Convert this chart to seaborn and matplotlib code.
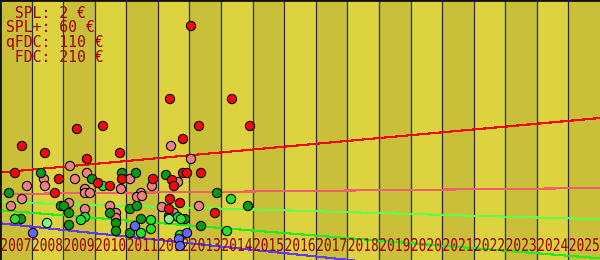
import matplotlib
matplotlib.use("Agg")
import matplotlib.pyplot as plt
import matplotlib.patheffects as pe
from matplotlib.transforms import Affine2D
import seaborn as sns
import pandas as pd

# ---------------- data ----------------
year_ticks = list(range(2007, 2026))
legend_lines = [" SPL: 2 €", "SPL+: 60 €", "qFDC: 110 €", " FDC: 210 €"]

# trend lines (start year / end year values)
trend_years = [2007, 2026]
trend_red = [8.75, 14.2]
trend_pink = [6.6, 7.2]
trend_lightgreen = [5.77, 4.07]
trend_lime = [4.97, 0.17]
trend_blue = [3.67, -2.63]

red_x = [2007.697, 2008.425, 2009.438, 2010.262, 2009.755, 2010.800, 2007.475, 2008.868,
         2010.863, 2010.103, 2010.483, 2008.742, 2013.048, 2012.383, 2014.346, 2013.302,
         2014.917, 2012.795, 2012.795, 2012.922, 2013.365, 2011.845, 2012.447, 2012.510,
         2012.383, 2012.700, 2012.352, 2013.808]
red_y = [11.4, 10.7, 13.1, 13.4, 10.1, 10.7, 8.7, 8.1,
         8.1, 7.7, 7.4, 6.7, 23.4, 16.1, 16.1, 13.4,
         13.4, 12.1, 8.7, 8.7, 8.7, 8.1, 8.0, 7.4,
         6.1, 5.7, 5.1, 4.7]

pink_x = [2009.217, 2009.755, 2008.393, 2009.375, 2011.117, 2007.855, 2008.425, 2010.832,
          2009.692, 2009.692, 2009.850, 2011.465, 2011.338, 2011.497, 2007.697, 2009.185,
          2007.348, 2010.483, 2009.692, 2010.673, 2010.673, 2012.415, 2013.048, 2011.813,
          2012.637, 2012.130, 2013.302, 2012.510]
pink_y = [9.4, 8.7, 8.1, 8.1, 8.1, 7.4, 7.4, 7.1,
          7.1, 6.7, 6.7, 6.7, 6.3, 6.4, 6.1, 5.7,
          5.4, 5.4, 5.1, 4.7, 4.2, 11.4, 10.1, 7.4,
          7.8, 5.3, 5.4, 4.7]

dgreen_x = [2008.298, 2010.863, 2011.307, 2009.913, 2007.285, 2008.932, 2009.027, 2009.185,
            2010.483, 2011.117, 2011.338, 2007.665, 2011.465, 2009.185, 2010.673, 2010.673,
            2011.117, 2012.257, 2013.872, 2014.853, 2013.365, 2012.352, 2012.858]
dgreen_y = [8.7, 8.7, 8.7, 8.1, 6.7, 5.4, 5.4, 4.7,
            4.7, 5.1, 5.4, 4.1, 4.1, 3.5, 3.7, 2.9,
            2.7, 8.5, 6.7, 5.4, 3.4, 4.4, 4.1]

lime_x = [2010.262, 2007.475, 2009.692, 2009.565, 2011.465, 2011.782, 2011.782, 2012.637,
          2012.732, 2014.315, 2014.188, 2012.700]
lime_y = [7.4, 4.1, 4.3, 4.0, 2.7, 4.0, 3.1, 4.3,
          4.1, 6.1, 2.9, 2.5]

lgreen_x = [2008.488, 2012.352]
lgreen_y = [3.7, 4.1]

blue_x = [2008.045, 2011.275, 2012.922, 2012.668, 2012.700]
blue_y = [2.7, 3.4, 2.7, 2.1, 1.4]

# ---------------- frames ----------------
lines_df = pd.concat([
    pd.DataFrame({"year": trend_years, "value": v, "series": s})
    for s, v in [("red", trend_red), ("pink", trend_pink), ("lightgreen", trend_lightgreen),
                 ("lime", trend_lime), ("blue", trend_blue)]
], ignore_index=True)

pts_df = pd.concat([
    pd.DataFrame({"year": x, "value": y, "kind": k})
    for k, x, y in [("pink", pink_x, pink_y), ("dgreen", dgreen_x, dgreen_y),
                    ("lime", lime_x, lime_y), ("lgreen", lgreen_x, lgreen_y),
                    ("blue", blue_x, blue_y), ("red", red_x, red_y)]
], ignore_index=True)

line_pal = {"red": "#ff0000", "pink": "#f0606c", "lightgreen": "#60ff50",
            "lime": "#1cf01c", "blue": "#6438ff"}
pt_pal = {"red": "#ff0000", "pink": "#f08080", "dgreen": "#0a9a0a",
          "lime": "#22e622", "lgreen": "#80ff80", "blue": "#6666ff"}

# ---------------- plot ----------------
sns.set_style("white")
fig = plt.figure(figsize=(6, 2.6), dpi=100)
ax = fig.add_axes([0, 0, 1, 1])

light = "#ddd33f"
dark = "#c9bf38"
for yr in year_ticks:
    ax.axvspan(yr, yr + 1, color=dark if yr % 2 == 1 else light, lw=0, zorder=0)
for yr in year_ticks[1:]:
    ax.axvline(yr, color="#2c2c38", lw=0.9, zorder=1)

sns.lineplot(data=lines_df, x="year", y="value", hue="series", palette=line_pal,
             legend=False, lw=0.8, ax=ax, zorder=2, antialiased=False)

sns.scatterplot(data=pts_df, x="year", y="value", hue="kind", palette=pt_pal,
                s=44, edgecolor="black", linewidth=0.8, legend=False, ax=ax, zorder=4)


class Stretch(pe.AbstractPathEffect):
    """Stretch glyphs about the text origin (keeps the text a real Text)."""
    def __init__(self, sx=1.0, sy=1.0):
        super().__init__()
        self.sx = sx
        self.sy = sy

    def draw_path(self, renderer, gc, tpath, affine, rgbFace=None):
        x0, y0 = affine.transform((0, 0))
        aff = affine + Affine2D().translate(-x0, -y0).scale(self.sx, self.sy).translate(x0, y0)
        renderer.draw_path(gc, tpath, aff, rgbFace)


label_color = "#a00000"
for yr in year_ticks:
    ax.text(yr + 0.01, 0.9, str(yr), family="DejaVu Sans Mono", fontsize=9.3,
            color=label_color, ha="left", va="baseline", zorder=3,
            path_effects=[Stretch(1.0, 1.36)])

for i, line in enumerate(legend_lines):
    fig.text(6 / 600, 1 - (17.5 + 15 * i) / 260, line, family="DejaVu Sans Mono",
             fontsize=10.6, color=label_color, ha="left", va="baseline", zorder=5)

ax.set_xlim(2007, 2026)
ax.set_ylim(0, 26)
ax.set_xlabel("")
ax.set_ylabel("")
ax.set_xticks([])
ax.set_yticks([])
for side in ["right", "bottom"]:
    ax.spines[side].set_visible(False)
for side in ["top", "left"]:
    ax.spines[side].set_visible(True)
    ax.spines[side].set_color("#111111")
    ax.spines[side].set_linewidth(2)

fig.savefig("out.png", dpi=100)
